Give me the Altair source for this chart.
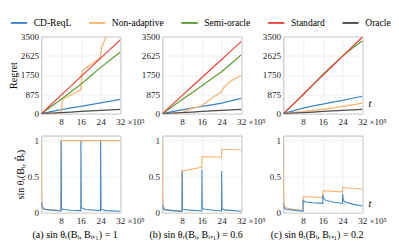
import altair as alt
import pandas as pd

METHODS = ["CD-ReqL", "Non-adaptive", "Semi-oracle", "Standard", "Oracle"]
COLORS = ["#3d85c6", "#fbb36b", "#5c9e32", "#e8453c", "#4d4d4d"]
FONT = "Liberation Serif, Times New Roman, serif"

# ---------------- Regret (top row) ----------------
T_REG = [0, 4, 8, 12, 16, 20, 24, 28, 32]
# panel (a)
reg_a_cd = [0, 95, 180, 260, 330, 410, 490, 570, 650]
reg_a_semi = [0, 330, 660, 990, 1330, 1720, 2100, 2450, 2800]
reg_a_std = [0, 420, 840, 1260, 1680, 2100, 2520, 2940, 3350]
reg_a_orc = [0, 25, 50, 75, 100, 125, 150, 175, 200]
reg_a_non_t = [0, 4, 7.9, 8.6, 12, 15.9, 16.6, 20, 23.8, 24.4, 27]
reg_a_non = [0, 15, 30, 640, 850, 1080, 1950, 2230, 2520, 3000, 3700]
# panel (b)
reg_b_cd = [0, 90, 170, 250, 330, 400, 480, 590, 690]
reg_b_semi = [0, 320, 640, 950, 1270, 1580, 1900, 2290, 2680]
reg_b_std = [0, 410, 820, 1230, 1640, 2050, 2460, 2870, 3280]
reg_b_orc = [0, 25, 50, 75, 100, 125, 150, 175, 200]
reg_b_non_t = [0, 4, 8, 10, 12, 14, 16, 17, 20, 23, 24, 25, 27, 29, 32]
reg_b_non = [0, 10, 40, 150, 240, 300, 360, 450, 700, 930, 1010, 1200, 1420, 1570, 1730]
# panel (c)
reg_c_cd = [0, 130, 250, 350, 430, 520, 600, 700, 790]
reg_c_semi = [0, 420, 860, 1320, 1780, 2200, 2620, 2980, 3310]
reg_c_std = [0, 435, 870, 1305, 1740, 2175, 2610, 3045, 3480]
reg_c_orc = [0, 25, 50, 75, 100, 125, 150, 175, 200]
reg_c_non = [0, 45, 90, 145, 200, 265, 330, 400, 475]

# ---------------- sin theta (bottom row) ----------------
sin_a_cd_t = [0, 0.3, 1, 3, 7.95, 8, 8.15, 9, 12, 15.95, 16, 16.15, 17, 18, 23.95, 24, 24.15, 26, 32]
sin_a_cd = [0.15, 0.08, 0.05, 0.04, 0.025, 1.0, 0.06, 0.045, 0.035, 0.03, 1.0, 0.07, 0.06, 0.045, 0.03, 1.0, 0.05, 0.03, 0.02]
sin_a_non_t = [0, 0.1, 0.3, 0.8, 2, 5, 7.95, 8, 32]
sin_a_non = [1.0, 0.3, 0.12, 0.07, 0.05, 0.04, 0.03, 1.0, 1.0]

sin_b_cd_t = [0, 0.3, 1, 7.95, 8, 8.15, 10, 15.95, 16, 16.15, 17, 23.95, 24, 24.15, 25, 32]
sin_b_cd = [0.12, 0.06, 0.04, 0.02, 0.58, 0.05, 0.04, 0.025, 0.6, 0.06, 0.05, 0.025, 0.58, 0.06, 0.04, 0.02]
sin_b_non_t = [0, 0.1, 0.4, 1, 4, 7.95, 8, 15.95, 16, 23.95, 24, 32]
sin_b_non = [1.0, 0.3, 0.1, 0.05, 0.03, 0.02, 0.58, 0.63, 0.78, 0.77, 0.88, 0.87]

sin_c_cd_t = [0, 0.3, 1, 7.95, 8, 9, 12, 15.95, 16, 16.3, 17, 20, 23.95, 24, 24.3, 25, 28, 32]
sin_c_cd = [0.13, 0.07, 0.05, 0.02, 0.17, 0.15, 0.14, 0.13, 0.25, 0.2, 0.175, 0.15, 0.13, 0.26, 0.17, 0.15, 0.12, 0.095]
sin_c_non_t = [0, 0.1, 0.4, 1, 4, 7.95, 8, 15.95, 16, 23.95, 24, 32]
sin_c_non = [1.0, 0.25, 0.1, 0.07, 0.05, 0.035, 0.225, 0.21, 0.305, 0.29, 0.35, 0.33]

CAPTIONS = [
    "(a) sin θᵣ(Bᵢ, Bᵢ₊₁) = 1",
    "(b) sin θᵣ(Bᵢ, Bᵢ₊₁) = 0.6",
    "(c) sin θᵣ(Bᵢ, Bᵢ₊₁) = 0.2",
]


def rows(panel, method, ts, vs):
    return [{"panel": panel, "method": method, "t": t, "v": v} for t, v in zip(ts, vs)]


reg_rows = []
reg_rows += rows("a", "CD-ReqL", T_REG, reg_a_cd)
reg_rows += rows("a", "Non-adaptive", reg_a_non_t, reg_a_non)
reg_rows += rows("a", "Semi-oracle", T_REG, reg_a_semi)
reg_rows += rows("a", "Standard", T_REG, reg_a_std)
reg_rows += rows("a", "Oracle", T_REG, reg_a_orc)
reg_rows += rows("b", "CD-ReqL", T_REG, reg_b_cd)
reg_rows += rows("b", "Non-adaptive", reg_b_non_t, reg_b_non)
reg_rows += rows("b", "Semi-oracle", T_REG, reg_b_semi)
reg_rows += rows("b", "Standard", T_REG, reg_b_std)
reg_rows += rows("b", "Oracle", T_REG, reg_b_orc)
reg_rows += rows("c", "CD-ReqL", T_REG, reg_c_cd)
reg_rows += rows("c", "Non-adaptive", T_REG, reg_c_non)
reg_rows += rows("c", "Semi-oracle", T_REG, reg_c_semi)
reg_rows += rows("c", "Standard", T_REG, reg_c_std)
reg_rows += rows("c", "Oracle", T_REG, reg_c_orc)
df_reg = pd.DataFrame(reg_rows)

sin_rows = []
sin_rows += rows("a", "Non-adaptive", sin_a_non_t, sin_a_non)
sin_rows += rows("a", "CD-ReqL", sin_a_cd_t, sin_a_cd)
sin_rows += rows("b", "Non-adaptive", sin_b_non_t, sin_b_non)
sin_rows += rows("b", "CD-ReqL", sin_b_cd_t, sin_b_cd)
sin_rows += rows("c", "Non-adaptive", sin_c_non_t, sin_c_non)
sin_rows += rows("c", "CD-ReqL", sin_c_cd_t, sin_c_cd)
df_sin = pd.DataFrame(sin_rows)

W, H = 83, 81

LEGEND = alt.Legend(
    orient="none", legendX=-33, legendY=-24, direction="horizontal", title=None,
    symbolType="stroke", symbolSize=289, symbolStrokeWidth=2,
    labelFont=FONT, labelFontSize=10, labelOffset=6, columnPadding=14,
)
COLOR = alt.Color("method:N", scale=alt.Scale(domain=METHODS, range=COLORS), legend=LEGEND)


def x_axis(last):
    kw = dict(
        values=[8, 16, 24, 32], labelFlush=False, labelOverlap=False,
        labelExpr="datum.value == 32 ? '32 ×10⁵' : datum.label",
        labelAlign={"condition": {"test": "datum.value == 32", "value": "left"}, "value": "center"},
        labelOffset={"condition": {"test": "datum.value == 32", "value": -5}, "value": 0},
    )
    if last:
        kw.update(title="t", titleX=W + 6, titleY=-10, titleAlign="left", titleBaseline="middle",
                  titleFontStyle="italic", titleFontWeight="normal", titleFontSize=11, titleFont=FONT)
    else:
        kw.update(title=None)
    return alt.Axis(**kw)


def top_panel(p, i):
    yax = alt.Axis(values=[0, 875, 1750, 2625, 3500], labelFlush=False, labelOverlap=False, format="d",
                   title="Regret" if i == 0 else None, titlePadding=2)
    return alt.Chart(df_reg[df_reg.panel == p]).mark_line(clip=True, strokeWidth=1.3).encode(
        x=alt.X("t:Q", scale=alt.Scale(domain=[0, 32], nice=False), axis=x_axis(i == 2)),
        y=alt.Y("v:Q", scale=alt.Scale(domain=[0, 3500], nice=False), axis=yax),
        color=COLOR,
    ).properties(width=W, height=H)


def bottom_panel(p, i):
    yax = alt.Axis(values=[0, 0.5, 1], labelFlush=False, labelOverlap=False, format="~g",
                   title="sin θᵣ(Bᵢ, B̂ᵢ)" if i == 0 else None, titlePadding=2)
    return alt.Chart(df_sin[df_sin.panel == p]).mark_line(clip=True, strokeWidth=1.1).encode(
        x=alt.X("t:Q", scale=alt.Scale(domain=[0, 32], nice=False), axis=x_axis(i == 2)),
        y=alt.Y("v:Q", scale=alt.Scale(domain=[0, 1.07], nice=False), axis=yax),
        color=COLOR,
    ).properties(
        width=W, height=H,
        title=alt.TitleParams(CAPTIONS[i], orient="bottom", anchor="middle", offset=6, dx=-6,
                              font=FONT, fontSize=10.5, fontWeight="normal", color="#000"),
    )


panels = [top_panel(p, i) for i, p in enumerate("abc")] + [bottom_panel(p, i) for i, p in enumerate("abc")]

chart = alt.concat(*panels, columns=3, spacing={"row": 23, "column": 44}, bounds="flush").properties(
    padding=0
).configure_view(
    stroke="#b5b5b5", strokeWidth=1
).configure_axis(
    domain=False, ticks=False, grid=True, gridColor="#e8e8e8", gridWidth=0.8,
    labelFont=FONT, labelFontSize=9.5, labelColor="#222", labelPadding=3,
    titleFont=FONT, titleFontSize=10.5, titleFontWeight="normal", titleColor="#000",
)

chart.save("out.html", embed_options={"renderer": "svg", "actions": False})
